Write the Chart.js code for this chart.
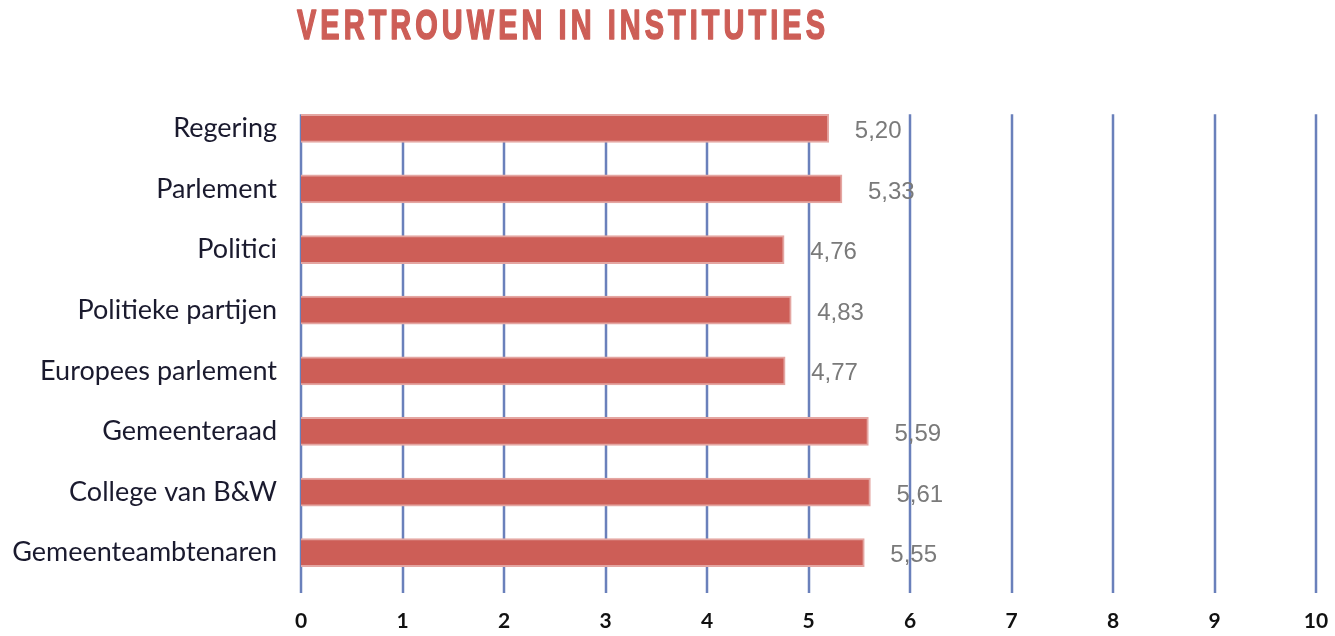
<!DOCTYPE html>
<html>
<head>
<meta charset="utf-8">
<script src="https://cdn.jsdelivr.net/npm/chart.js@4.4.0/dist/chart.umd.min.js"></script>
<style>
  html, body { margin: 0; padding: 0; background: #fff; }
  #wrap { width: 1335px; height: 636px; }
</style>
</head>
<body>
<div id="wrap"><canvas id="chart" width="1335" height="636"></canvas></div>
<script>
// ===== data =====
const titleText = 'VERTROUWEN IN INSTITUTIES';
const categories = ['Regering', 'Parlement', 'Politici', 'Politieke partijen',
  'Europees parlement', 'Gemeenteraad', 'College van B&W', 'Gemeenteambtenaren'];
const scores = [5.20, 5.33, 4.76, 4.83, 4.77, 5.59, 5.61, 5.55];
const xTicks = [0, 1, 2, 3, 4, 5, 6, 7, 8, 9, 10];

// ===== plugins =====
// vertical grid lines, starting at the top of the first bar
const gridLines = {
  id: 'gridLines',
  beforeDatasetsDraw(chart){
    const { ctx, chartArea, scales } = chart;
    const bar0 = chart.getDatasetMeta(0).data[0];
    const top = bar0.y - bar0.height / 2;
    ctx.save();
    ctx.strokeStyle = '#6a80bb';
    ctx.lineWidth = 2.5;
    xTicks.forEach(v => {
      const x = Math.round(scales.x.getPixelForValue(v));
      ctx.beginPath();
      ctx.moveTo(x, top);
      ctx.lineTo(x, chartArea.bottom + 10);
      ctx.stroke();
    });
    ctx.restore();
  }
};

// value labels to the right of the bars, with decimal comma
const valueLabels = {
  id: 'valueLabels',
  afterDatasetsDraw(chart){
    const { ctx } = chart;
    const meta = chart.getDatasetMeta(0);
    ctx.save();
    ctx.font = '24px "Liberation Sans", Arial, sans-serif';
    ctx.fillStyle = '#7a7a7a';
    ctx.textAlign = 'left';
    ctx.textBaseline = 'middle';
    meta.data.forEach((bar, i) => {
      ctx.fillText(scores[i].toFixed(2).replace('.', ','), bar.x + 26, bar.y + 3);
    });
    ctx.restore();
  }
};

// title, left aligned on the plot area, spaced letters squeezed to width
const titlePlugin = {
  id: 'titlePlugin',
  afterDraw(chart){
    const { ctx, chartArea } = chart;
    const target = 528;
    ctx.save();
    ctx.font = 'bold 43px "Liberation Sans Narrow", "Liberation Sans", Arial, sans-serif';
    if ('letterSpacing' in ctx) ctx.letterSpacing = '6px';
    ctx.fillStyle = '#cd5e57';
    ctx.strokeStyle = '#cd5e57';
    ctx.lineWidth = 1.6;
    ctx.lineJoin = 'round';
    ctx.textBaseline = 'middle';
    ctx.textAlign = 'left';
    const w = ctx.measureText(titleText).width - 6;
    ctx.translate(chartArea.left - 4, 27);
    ctx.scale(target / w, 1);
    ctx.fillText(titleText, 0, 0);
    ctx.strokeText(titleText, 0, 0);
    ctx.restore();
  }
};

// ===== chart =====
new Chart(document.getElementById('chart'), {
  type: 'bar',
  data: {
    labels: categories,
    datasets: [{
      data: scores,
      backgroundColor: '#cd5e57',
      borderColor: '#e4a6a2',
      borderWidth: 2,
      barThickness: 28
    }]
  },
  options: {
    indexAxis: 'y',
    responsive: false,
    animation: false,
    layout: { padding: { top: 98, right: 19, left: 0, bottom: 0 } },
    plugins: { legend: { display: false }, tooltip: { enabled: false } },
    scales: {
      x: {
        min: 0, max: 10,
        afterBuildTicks: s => { s.ticks = xTicks.map(v => ({ value: v })); },
        afterFit: s => { s.height = 53; s.paddingLeft = 0; s.paddingRight = 0; },
        grid: { display: false },
        border: { display: false },
        ticks: {
          padding: 18,
          color: '#111',
          font: { family: 'Lato, "Liberation Sans", sans-serif', size: 21, weight: 'bold' }
        }
      },
      y: {
        afterFit: s => { s.width = 301; },
        grid: { display: false },
        border: { display: false },
        ticks: {
          padding: 16,
          color: '#1a1a2e',
          font: { family: 'Lato, "Liberation Sans", sans-serif', size: 27 }
        }
      }
    }
  },
  plugins: [gridLines, valueLabels, titlePlugin]
});
</script>
</body>
</html>
